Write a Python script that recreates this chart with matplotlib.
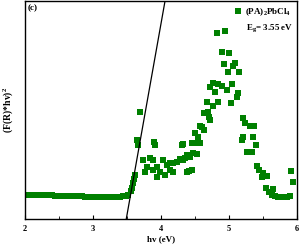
import matplotlib
matplotlib.use('Agg')
import matplotlib.pyplot as plt
from matplotlib.ticker import MultipleLocator

plt.rcParams['font.family'] = 'Liberation Serif'
plt.rcParams['font.weight'] = 'bold'
plt.rcParams['mathtext.fontset'] = 'custom'
plt.rcParams['mathtext.rm'] = 'Liberation Serif:bold'
plt.rcParams['mathtext.it'] = 'Liberation Serif:bold'

# flat part below the gap
base_x = [2.00, 2.04, 2.08, 2.12, 2.16, 2.20, 2.24, 2.28, 2.32, 2.36,
          2.40, 2.44, 2.48, 2.52, 2.56, 2.60, 2.64, 2.68, 2.72, 2.76,
          2.80, 2.84, 2.88, 2.92, 2.96, 3.00, 3.04, 3.08, 3.12, 3.16,
          3.20, 3.24, 3.28, 3.32, 3.36, 3.40, 3.44, 3.48, 3.52]
base_y = [0.110, 0.110, 0.110, 0.110, 0.110, 0.110, 0.109, 0.109, 0.108, 0.108,
          0.108, 0.107, 0.107, 0.106, 0.106, 0.106, 0.105, 0.105, 0.105, 0.104,
          0.104, 0.104, 0.103, 0.103, 0.103, 0.103, 0.102, 0.102, 0.102, 0.102,
          0.102, 0.102, 0.102, 0.102, 0.102, 0.103, 0.104, 0.106, 0.110]

# absorption edge and band
edge_x = [3.56, 3.57, 3.59, 3.60, 3.62, 3.65, 3.66, 3.69, 3.74, 3.76,
          3.79, 3.84, 3.88, 3.88, 3.90, 3.91, 3.94, 3.94, 3.99, 4.03,
          4.06, 4.09, 4.13, 4.13, 4.18, 4.18, 4.24, 4.28, 4.31, 4.32,
          4.32, 4.35, 4.38, 4.38, 4.41, 4.43, 4.46, 4.46, 4.47, 4.50,
          4.53, 4.53, 4.54, 4.57, 4.57, 4.60, 4.63, 4.63, 4.65, 4.68,
          4.69, 4.71, 4.72, 4.72, 4.76, 4.76, 4.79, 4.82, 4.84, 4.84,
          4.90, 4.90, 4.93, 4.94, 4.97, 4.99, 5.00, 5.03, 5.04, 5.06,
          5.09, 5.12, 5.13, 5.15, 5.19, 5.21, 5.21, 5.24, 5.26, 5.31,
          5.34, 5.35, 5.37, 5.40, 5.41, 5.44, 5.49, 5.50, 5.54, 5.56,
          5.59, 5.63, 5.65, 5.68, 5.72, 5.76, 5.81, 5.85, 5.90, 5.91,
          5.94]
edge_y = [0.128, 0.142, 0.165, 0.183, 0.202, 0.362, 0.339, 0.491, 0.271, 0.216,
          0.239, 0.280, 0.271, 0.225, 0.353, 0.339, 0.239, 0.193, 0.216, 0.271,
          0.202, 0.248, 0.225, 0.257, 0.257, 0.216, 0.261, 0.275, 0.339, 0.344,
          0.271, 0.280, 0.294, 0.216, 0.220, 0.284, 0.225, 0.349, 0.303, 0.394,
          0.298, 0.349, 0.376, 0.349, 0.427, 0.422, 0.408, 0.486, 0.486, 0.537,
          0.491, 0.468, 0.454, 0.606, 0.518, 0.624, 0.583, 0.853, 0.619, 0.537,
          0.610, 0.766, 0.711, 0.862, 0.592, 0.674, 0.761, 0.532, 0.619, 0.702,
          0.716, 0.560, 0.578, 0.674, 0.362, 0.463, 0.376, 0.440, 0.307, 0.427,
          0.307, 0.376, 0.427, 0.339, 0.243, 0.225, 0.193, 0.211, 0.142, 0.197,
          0.124, 0.110, 0.138, 0.106, 0.101, 0.101, 0.101, 0.101, 0.106, 0.220,
          0.170]

# tangent line (Tauc extrapolation)
fit_x = [3.49, 4.06]
fit_y = [0.0, 1.0]

xticks = [2, 3, 4, 5, 6]

fig = plt.figure(figsize=(3.0, 2.45), dpi=100)
ax = fig.add_axes([0.083, 0.106, 0.907, 0.89])

ax.plot(base_x + edge_x, base_y + edge_y, 's', color='#008000',
        markersize=4.2, markeredgewidth=0, linestyle='none',
        label='(PA)$_2$PbCl$_4$')
ax.plot(fit_x, fit_y, color='black', linewidth=0.9)

ax.set_xlim(2, 6)
ax.set_ylim(0, 1.0)
ax.set_xticks(xticks)
ax.xaxis.set_minor_locator(MultipleLocator(0.5))
ax.set_yticks([])
ax.tick_params(axis='x', which='major', direction='in', length=3, width=0.8,
               labelsize=6, pad=4)
ax.tick_params(axis='x', which='minor', direction='in', length=2, width=0.6)
for s in ax.spines.values():
    s.set_linewidth(1.0)

ax.set_xlabel('hv (eV)', fontsize=6.5, fontweight='bold', labelpad=2)
ax.set_ylabel('(F(R)*hv)$^2$', fontsize=7, fontweight='bold', labelpad=7)

ax.text(0.01, 0.985, '(c)', transform=ax.transAxes, fontsize=6.5,
        fontweight='bold', va='top', ha='left')

leg = ax.legend(loc='upper right', frameon=False, fontsize=6.5,
                handletextpad=0.3, borderaxespad=0.2, handlelength=1.0,
                markerscale=1.0)
ax.text(0.985, 0.875, 'E$_g$= 3.55 eV', transform=ax.transAxes,
        fontsize=6.5, fontweight='bold', ha='right', va='center')

fig.savefig('out.png', dpi=100)
